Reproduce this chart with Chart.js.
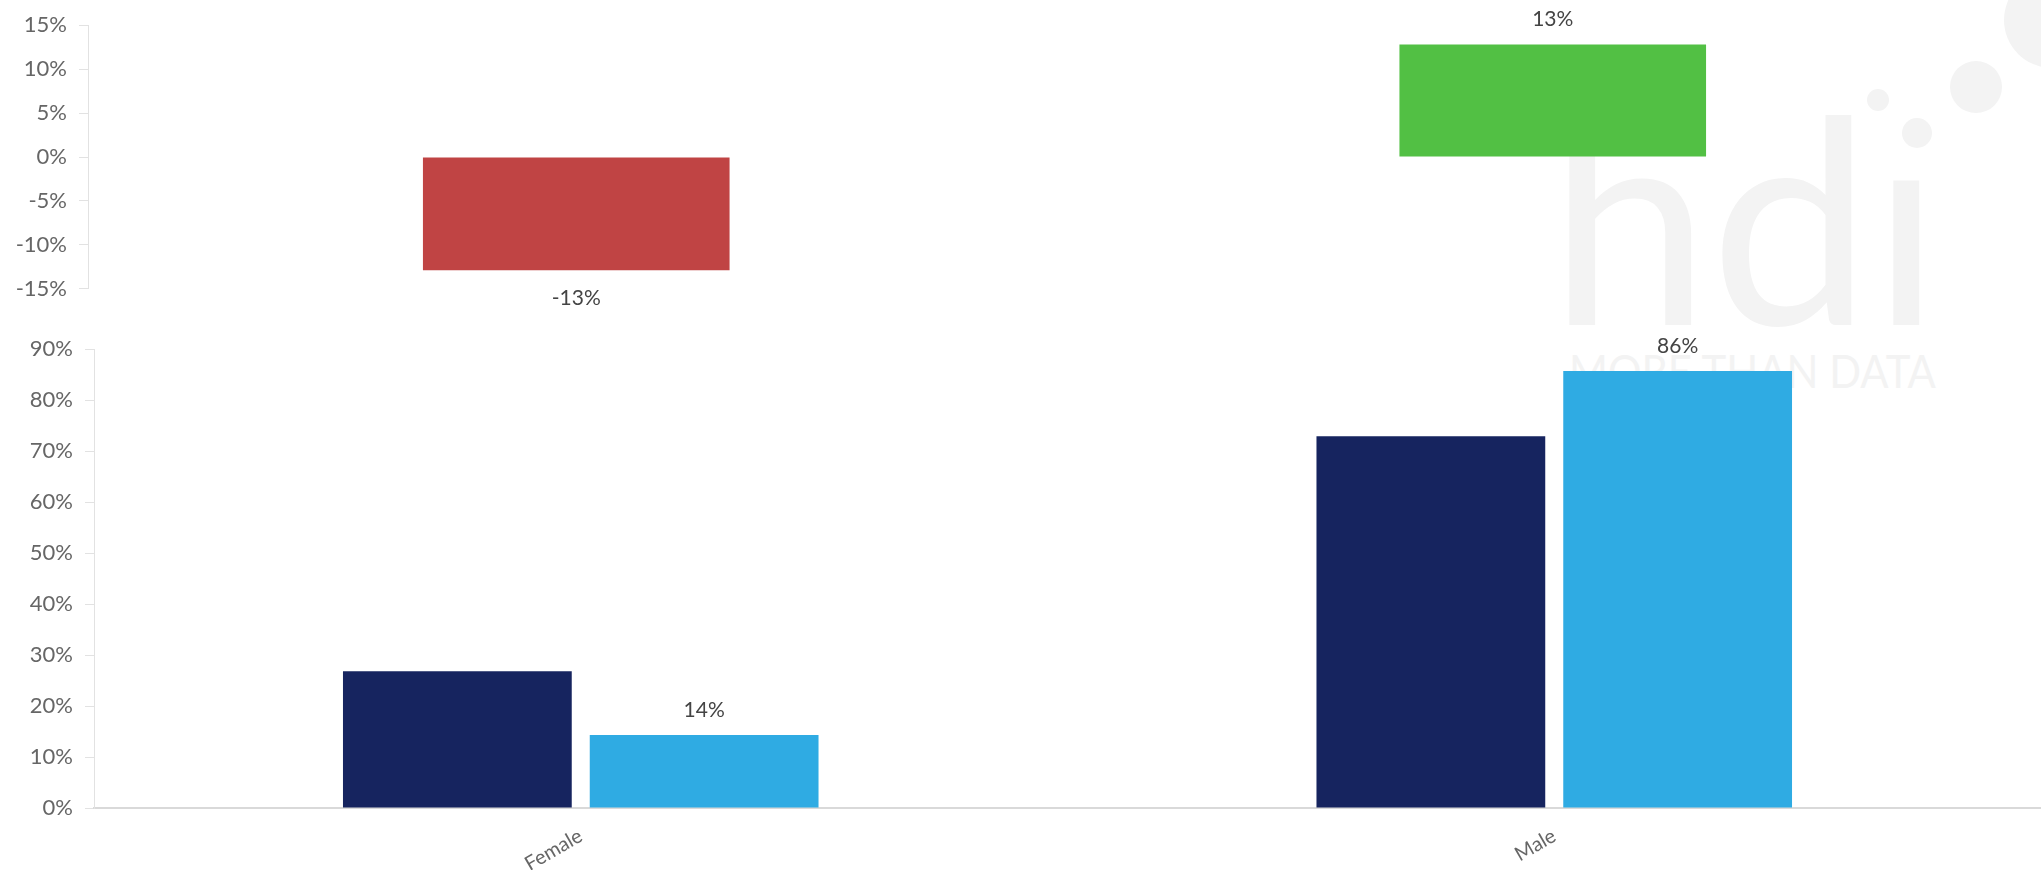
<!DOCTYPE html>
<html>
<head>
<meta charset="utf-8">
<script src="https://cdn.jsdelivr.net/npm/chart.js@4"></script>
<style>
  body { margin: 0; background: #fff; }
  #wrap { position: relative; width: 2041px; height: 870px; overflow: hidden; }
  #mark { position: absolute; left: 0; top: 0; z-index: 0; }
  .box { position: absolute; left: 0; width: 2041px; z-index: 1; }
  #topBox { top: 0; height: 314px; }
  #bottomBox { top: 300px; height: 570px; }
</style>
</head>
<body>
<div id="wrap">
  <svg id="mark" width="2041" height="870">
    <text x="1549" y="325" font-family="Lato" font-weight="400" font-size="285" fill="#f3f3f3" textLength="392" lengthAdjust="spacingAndGlyphs">hdı</text>
    <circle cx="1917" cy="133" r="15" fill="#f3f3f3"></circle>
    <circle cx="1878" cy="100" r="11" fill="#f3f3f3"></circle>
    <circle cx="1976" cy="87" r="26" fill="#f3f3f3"></circle>
    <circle cx="2052" cy="20" r="48" fill="#f3f3f3"></circle>
    <text x="1569" y="388" font-family="Lato" font-weight="400" font-size="46" fill="#f3f3f3" textLength="367" lengthAdjust="spacingAndGlyphs">MORE THAN DATA</text>
  </svg>
  <div class="box" id="topBox"><canvas id="changeChart"></canvas></div>
  <div class="box" id="bottomBox"><canvas id="shareChart"></canvas></div>
</div>
<script>
// data
const categories = ['Female', 'Male'];
const changeValues = [-12.9, 12.8];      // top panel, change in points
const shareBefore = [26.8, 72.9];        // dark navy bars
const shareAfter = [14.3, 85.7];         // light blue bars (labelled)
const changeTicks = [-15, -10, -5, 0, 5, 10, 15];
const shareTicks = [0, 10, 20, 30, 40, 50, 60, 70, 80, 90];

const font = 'Lato';
const tickColor = '#666';
const lineColor = '#e2e2e2';

// draws "n%" above positive bars, below negative ones
const valueLabels = {
  id: 'valueLabels',
  afterDatasetsDraw(chart) {
    const ctx = chart.ctx;
    ctx.save();
    ctx.font = '21px ' + font;
    ctx.fillStyle = '#444';
    ctx.textAlign = 'center';
    ctx.textBaseline = 'middle';
    chart.data.datasets.forEach((ds, i) => {
      if (!ds.showLabels) return;
      chart.getDatasetMeta(i).data.forEach((bar, j) => {
        const v = ds.data[j];
        const y = v >= 0 ? bar.y - 25 : bar.y + 28;
        ctx.fillText(Math.round(v) + '%', bar.x, y);
      });
    });
    ctx.restore();
  }
};

const pct = v => v + '%';

new Chart(document.getElementById('changeChart'), {
  type: 'bar',
  data: {
    labels: categories,
    datasets: [{
      data: changeValues,
      showLabels: true,
      backgroundColor: changeValues.map(v => v < 0 ? '#c04444' : '#52c044'),
      barPercentage: 0.314,
      categoryPercentage: 1
    }]
  },
  options: {
    responsive: true,
    maintainAspectRatio: false,
    animation: false,
    layout: { padding: { top: 22, bottom: 2, left: 0, right: 0 } },
    plugins: { legend: { display: false }, tooltip: { enabled: false } },
    scales: {
      x: { display: false },
      y: {
        min: changeTicks[0],
        max: changeTicks[changeTicks.length - 1],
        afterBuildTicks: s => { s.ticks = changeTicks.map(v => ({ value: v })); },
        afterFit: s => { s.width = 88; },
        ticks: { callback: pct, color: tickColor, font: { family: font, size: 22 }, padding: 12 },
        grid: { drawOnChartArea: false, tickLength: 9, color: lineColor },
        border: { color: lineColor }
      }
    }
  },
  plugins: [valueLabels]
});

new Chart(document.getElementById('shareChart'), {
  type: 'bar',
  data: {
    labels: categories,
    datasets: [{
      data: shareBefore,
      backgroundColor: '#16245f',
      barPercentage: 0.927,
      categoryPercentage: 0.507
    }, {
      data: shareAfter,
      showLabels: true,
      backgroundColor: '#2fabe3',
      barPercentage: 0.927,
      categoryPercentage: 0.507
    }]
  },
  options: {
    responsive: true,
    maintainAspectRatio: false,
    animation: false,
    layout: { padding: { top: 49, bottom: 0, left: 0, right: 0 } },
    plugins: { legend: { display: false }, tooltip: { enabled: false } },
    scales: {
      x: {
        afterFit: s => { s.height = 62; },
        ticks: { color: tickColor, font: { family: font, size: 20 }, minRotation: 30, maxRotation: 30, padding: 8 },
        grid: { display: false },
        border: { color: '#d9d9d9', width: 2 }
      },
      y: {
        min: shareTicks[0],
        max: shareTicks[shareTicks.length - 1],
        afterBuildTicks: s => { s.ticks = shareTicks.map(v => ({ value: v })); },
        afterFit: s => { s.width = 94; },
        ticks: { callback: pct, color: tickColor, font: { family: font, size: 22 }, padding: 12 },
        grid: { drawOnChartArea: false, tickLength: 9, color: lineColor },
        border: { color: lineColor }
      }
    }
  },
  plugins: [valueLabels]
});
</script>
</body>
</html>
